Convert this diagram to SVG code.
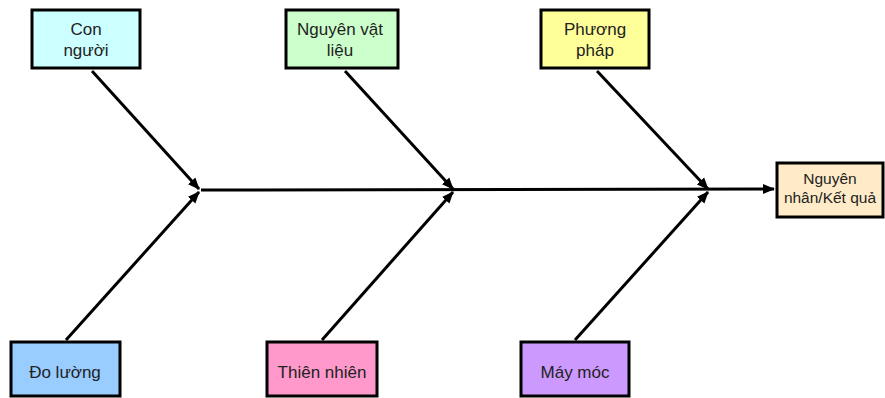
<svg xmlns="http://www.w3.org/2000/svg" width="885" height="398" viewBox="0 0 885 398">
<style>
.box{stroke:#000;stroke-width:3}
.t{font-family:"Liberation Sans",Arial,sans-serif;font-size:17px;fill:#222;text-anchor:middle}
.c{stroke:#000;stroke-width:3;fill:none;marker-end:url(#ah)}
</style>
<defs>
<marker id="ah" markerUnits="userSpaceOnUse" markerWidth="12" markerHeight="12" viewBox="0 0 12 12" refX="11" refY="6" orient="auto">
<path d="M0,1 L12,6 L0,11 Z" fill="#000"/>
</marker>
</defs>
<rect width="885" height="398" fill="#fff"/>
<g id="connectors">
<line class="c" x1="201" y1="190" x2="774" y2="189"/>
<line class="c" x1="92" y1="71" x2="199" y2="189"/>
<line class="c" x1="66" y1="340" x2="199" y2="192"/>
<line class="c" x1="345" y1="71" x2="453" y2="189"/>
<line class="c" x1="322" y1="340" x2="453" y2="192"/>
<line class="c" x1="597" y1="71" x2="708" y2="189"/>
<line class="c" x1="575" y1="340" x2="708" y2="192"/>
</g>
<g id="con-nguoi">
<rect class="box" x="32" y="10" width="108" height="58" fill="#CCFFFF"/>
<text class="t" x="86" y="35">Con</text>
<text class="t" x="86" y="56">người</text>
</g>
<g id="nguyen-vat-lieu">
<rect class="box" x="286" y="10" width="112" height="58" fill="#CCFFCC"/>
<text class="t" x="340" y="35">Nguyên vật</text>
<text class="t" x="340" y="56">liệu</text>
</g>
<g id="phuong-phap">
<rect class="box" x="541" y="10" width="108" height="58" fill="#FFFF99"/>
<text class="t" x="595" y="35">Phương</text>
<text class="t" x="595" y="56">pháp</text>
</g>
<g id="ket-qua">
<rect class="box" x="777" y="163" width="106" height="54" fill="#FFEBC7"/>
<text class="t" x="830" y="184" style="font-size:15.5px">Nguyên</text>
<text class="t" x="830" y="203" style="font-size:15.5px">nhân/Kết quả</text>
</g>
<g id="do-luong">
<rect class="box" x="11" y="342" width="109" height="54" fill="#99CCFF"/>
<text class="t" x="65" y="378">Đo lường</text>
</g>
<g id="thien-nhien">
<rect class="box" x="267" y="342" width="110" height="54" fill="#FF99CC"/>
<text class="t" x="322" y="378">Thiên nhiên</text>
</g>
<g id="may-moc">
<rect class="box" x="521" y="342" width="108" height="54" fill="#CC99FF"/>
<text class="t" x="575" y="378">Máy móc</text>
</g>
</svg>
